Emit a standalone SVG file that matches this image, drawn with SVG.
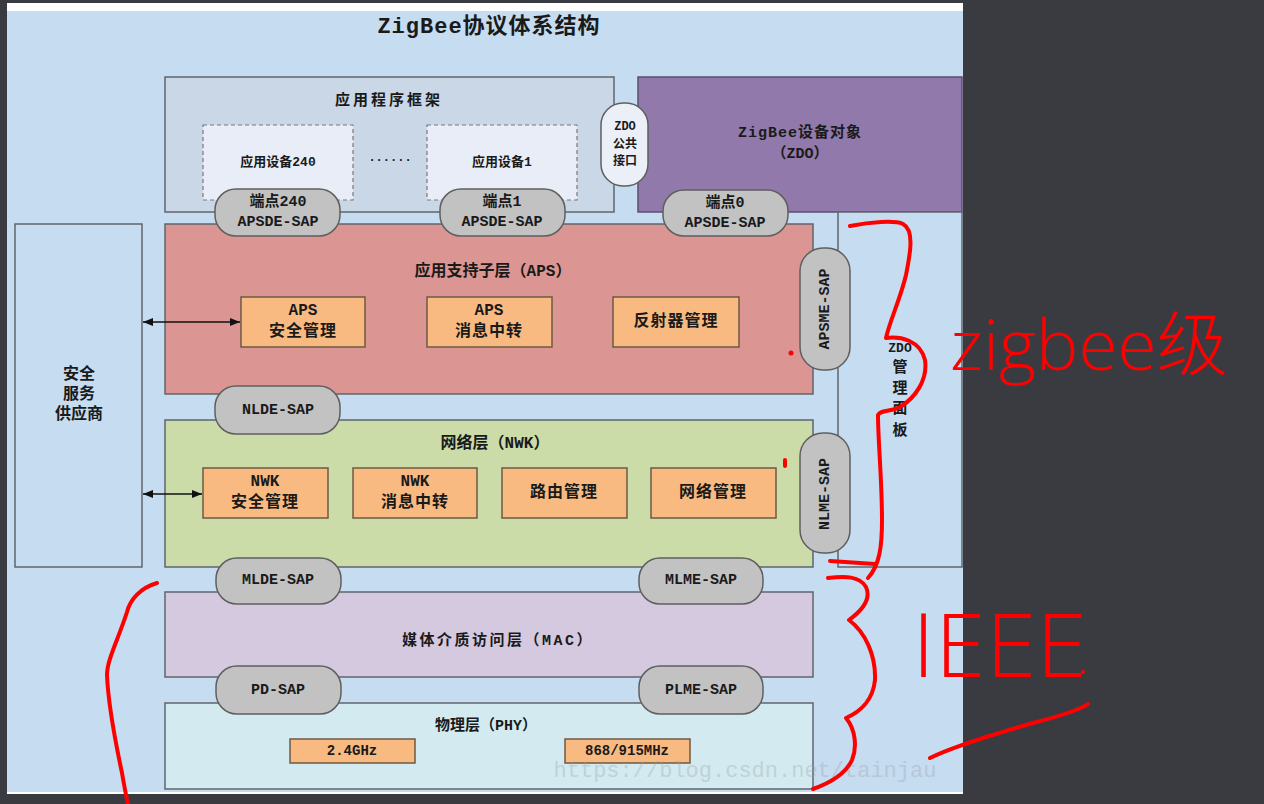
<svg xmlns="http://www.w3.org/2000/svg" width="1264" height="804" viewBox="0 0 1264 804">
<defs>
<style>
.t{font-family:"Liberation Mono","Noto Sans CJK SC",monospace;font-weight:bold;fill:#1a1a1a;text-anchor:middle;dominant-baseline:central}
.lay{stroke:#5f656c;stroke-width:1.5}
.pill{fill:#c2c2c2;stroke:#5f5f5f;stroke-width:1.5}
.sub{fill:#f8ba80;stroke:#6e5a45;stroke-width:1.5}
.dash{fill:#e8edf7;stroke:#7a7a7a;stroke-width:1.2;stroke-dasharray:4 3}
.red{fill:none;stroke:#ff0000;stroke-width:4;stroke-linecap:round;stroke-linejoin:round}
.hw{font-family:"Open Sans","Noto Sans","DejaVu Sans","Noto Sans CJK SC",sans-serif;font-weight:300;fill:#ff0000}
</style>
<marker id="ah" viewBox="0 0 10 10" refX="10" refY="5" markerWidth="10" markerHeight="10" markerUnits="userSpaceOnUse" orient="auto-start-reverse">
<path d="M0,1 L10,5 L0,9 Z" fill="#111"/>
</marker>
</defs>
<rect width="1264" height="804" fill="#3a3b40"/>
<rect x="7" y="3" width="956" height="791" fill="#ffffff"/>
<rect x="7" y="11" width="956" height="781" fill="#c6dcf0"/>
<text class="t" x="489" y="27" font-size="22" letter-spacing="1">ZigBee协议体系结构</text>

<g id="app-framework">
<rect class="lay" x="165" y="77" width="449" height="135" fill="#cad7e7"/>
<text class="t" x="389" y="101" font-size="15" letter-spacing="3">应用程序框架</text>
</g>
<g id="app-device-240">
<rect class="dash" x="203" y="125" width="150" height="75"/>
<text class="t" x="278" y="162" font-size="13">应用设备240</text>
</g>
<text class="t" x="390" y="158" font-size="12">......</text>
<g id="app-device-1">
<rect class="dash" x="427" y="125" width="150" height="75"/>
<text class="t" x="502" y="162" font-size="13">应用设备1</text>
</g>
<g id="zdo">
<rect x="638" y="77" width="324" height="135" fill="#9179ab" stroke="#5c4d70" stroke-width="1.5"/>
<text class="t" x="800" y="133" font-size="15" letter-spacing="1">ZigBee设备对象</text>
<text class="t" x="800" y="154" font-size="15">（ZDO）</text>
</g>
<g id="zdo-public-interface">
<rect x="601" y="103" width="47" height="83" rx="22" ry="22" fill="#eaeff8" stroke="#5f5f5f" stroke-width="1.5"/>
<text class="t" x="625" y="127" font-size="12">ZDO</text>
<text class="t" x="625" y="145" font-size="12">公共</text>
<text class="t" x="625" y="162" font-size="12">接口</text>
</g>
<g id="security-provider">
<rect class="lay" x="15" y="224" width="127" height="343" fill="#c6dcf0"/>
<text class="t" x="79" y="375" font-size="16">安全</text>
<text class="t" x="79" y="395" font-size="16">服务</text>
<text class="t" x="79" y="415" font-size="16">供应商</text>
</g>
<g id="zdo-mgmt-plane">
<rect class="lay" x="838" y="212" width="124" height="355" fill="#c6dcf0"/>
<text class="t" x="900" y="348" font-size="13">ZDO</text>
<text class="t" x="900" y="368" font-size="15">管</text>
<text class="t" x="900" y="389" font-size="15">理</text>
<text class="t" x="900" y="409" font-size="15">面</text>
<text class="t" x="900" y="431" font-size="15">板</text>
</g>
<g id="aps">
<rect class="lay" x="165" y="224" width="648" height="170" fill="#db9693"/>
<text class="t" x="493" y="272" font-size="16">应用支持子层（APS）</text>
</g>
<g id="aps-security">
<rect class="sub" x="241" y="297" width="124" height="50"/>
<text class="t" x="303" y="311" font-size="16">APS</text>
<text class="t" x="303" y="332" font-size="16" letter-spacing="1">安全管理</text>
</g>
<g id="aps-message">
<rect class="sub" x="427" y="297" width="125" height="50"/>
<text class="t" x="489" y="311" font-size="16">APS</text>
<text class="t" x="489" y="332" font-size="16" letter-spacing="1">消息中转</text>
</g>
<g id="aps-reflector">
<rect class="sub" x="613" y="297" width="126" height="50"/>
<text class="t" x="676" y="322" font-size="16" letter-spacing="1">反射器管理</text>
</g>
<g id="nwk">
<rect class="lay" x="165" y="420" width="648" height="147" fill="#cbdca9"/>
<text class="t" x="495" y="444" font-size="16">网络层（NWK）</text>
</g>
<g id="nwk-security">
<rect class="sub" x="203" y="468" width="125" height="50"/>
<text class="t" x="265" y="482" font-size="16">NWK</text>
<text class="t" x="265" y="503" font-size="16" letter-spacing="1">安全管理</text>
</g>
<g id="nwk-message">
<rect class="sub" x="353" y="468" width="124" height="50"/>
<text class="t" x="415" y="482" font-size="16">NWK</text>
<text class="t" x="415" y="503" font-size="16" letter-spacing="1">消息中转</text>
</g>
<g id="nwk-routing">
<rect class="sub" x="502" y="468" width="125" height="50"/>
<text class="t" x="564" y="493" font-size="16" letter-spacing="1">路由管理</text>
</g>
<g id="nwk-network">
<rect class="sub" x="651" y="468" width="125" height="50"/>
<text class="t" x="713" y="493" font-size="16" letter-spacing="1">网络管理</text>
</g>
<g id="mac">
<rect class="lay" x="165" y="592" width="648" height="85" fill="#d5c9e0"/>
<text class="t" x="498" y="641" font-size="15" letter-spacing="2.5">媒体介质访问层（MAC）</text>
</g>
<g id="phy">
<rect class="lay" x="165" y="703" width="648" height="86" fill="#d3ebf0"/>
<text class="t" x="486" y="726" font-size="15">物理层（PHY）</text>
</g>
<g id="phy-24">
<rect class="sub" x="290" y="739" width="125" height="24"/>
<text class="t" x="352" y="751" font-size="14">2.4GHz</text>
</g>
<g id="phy-868">
<rect class="sub" x="565" y="739" width="125" height="24"/>
<text class="t" x="627" y="751" font-size="14">868/915MHz</text>
</g>

<g id="sap-ep240">
<rect class="pill" x="215" y="189" width="125" height="47" rx="21" ry="21"/>
<text class="t" x="278" y="202" font-size="15">端点240</text>
<text class="t" x="278" y="222" font-size="15">APSDE-SAP</text>
</g>
<g id="sap-ep1">
<rect class="pill" x="440" y="189" width="125" height="47" rx="21" ry="21"/>
<text class="t" x="502" y="202" font-size="15">端点1</text>
<text class="t" x="502" y="222" font-size="15">APSDE-SAP</text>
</g>
<g id="sap-ep0">
<rect class="pill" x="663" y="190" width="125" height="46" rx="21" ry="21"/>
<text class="t" x="725" y="203" font-size="15">端点0</text>
<text class="t" x="725" y="223" font-size="15">APSDE-SAP</text>
</g>
<g id="sap-apsme">
<rect class="pill" x="800" y="248" width="50" height="122" rx="23" ry="23"/>
<text class="t" x="825" y="309" font-size="15" transform="rotate(-90 825 309)">APSME-SAP</text>
</g>
<g id="sap-nlde">
<rect class="pill" x="215" y="386" width="125" height="48" rx="21" ry="21"/>
<text class="t" x="278" y="410" font-size="15">NLDE-SAP</text>
</g>
<g id="sap-nlme">
<rect class="pill" x="800" y="433" width="50" height="120" rx="23" ry="23"/>
<text class="t" x="825" y="494" font-size="15" transform="rotate(-90 825 494)">NLME-SAP</text>
</g>
<g id="sap-mlde">
<rect class="pill" x="216" y="558" width="125" height="46" rx="21" ry="21"/>
<text class="t" x="278" y="580" font-size="15">MLDE-SAP</text>
</g>
<g id="sap-mlme">
<rect class="pill" x="639" y="558" width="124" height="46" rx="21" ry="21"/>
<text class="t" x="701" y="580" font-size="15">MLME-SAP</text>
</g>
<g id="sap-pd">
<rect class="pill" x="216" y="666" width="125" height="48" rx="21" ry="21"/>
<text class="t" x="278" y="690" font-size="15">PD-SAP</text>
</g>
<g id="sap-plme">
<rect class="pill" x="639" y="666" width="124" height="48" rx="21" ry="21"/>
<text class="t" x="701" y="690" font-size="15">PLME-SAP</text>
</g>

<g id="connectors" stroke="#111" stroke-width="1.5" fill="none">
<line x1="143" y1="322" x2="240" y2="322" marker-start="url(#ah)" marker-end="url(#ah)"/>
<line x1="143" y1="494" x2="202" y2="494" marker-start="url(#ah)" marker-end="url(#ah)"/>
</g>

<text x="745" y="777" font-family="Liberation Mono, monospace" font-size="22" fill="#9aa4aa" opacity="0.35" text-anchor="middle">https://blog.csdn.net/tainjau</text>

<g id="annotations">
<path class="red" d="M850,226 C870,222 895,220 903,224 C914,230 911,250 906,275 C900,300 890,320 886,338 C900,336 920,340 925,360 C928,380 915,398 900,407 C890,412 880,410 878,415 C878,440 882,480 882,520 C882,545 880,565 868,578"/>
<path class="red" d="M830,561 L875,564"/>
<path class="red" d="M828,578 C845,576 860,576 866,587 C872,600 860,612 849,620 C865,632 876,655 875,680 C873,700 860,712 846,718 C856,730 857,748 852,760 C845,775 830,783 813,789"/>
<path class="red" d="M157,583 C140,588 130,600 127,612 C118,640 107,660 107,675 C108,700 115,740 122,773 C125,790 127,800 128,804"/>
<path class="red" d="M930,758 C950,748 980,738 1033,723 C1060,716 1080,710 1088,704"/>
<circle cx="791" cy="353" r="2.5" fill="#ff0000"/>
<path class="red" d="M785,460 L785,466" stroke-width="3.5"/>
<circle cx="1083" cy="672" r="2" fill="#ff0000"/>
<text class="hw" x="950" y="370" font-size="70" textLength="278" lengthAdjust="spacingAndGlyphs">zigbee级</text>
<text class="hw" x="912" y="677" font-size="88" textLength="175" lengthAdjust="spacingAndGlyphs">IEEE</text>
</g>
</svg>
